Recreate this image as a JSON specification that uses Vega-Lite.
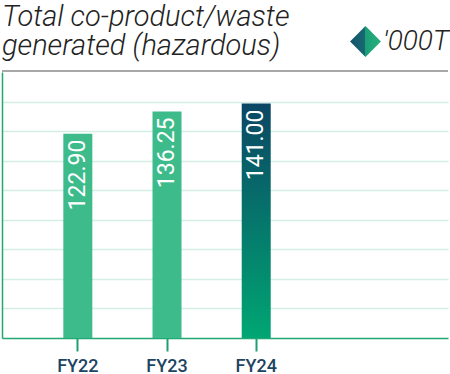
{
  "$schema": "https://vega.github.io/schema/vega-lite/v6.json",
  "autosize": {"type": "none"},
  "width": 446,
  "height": 266,
  "padding": {"left": 2, "top": 72, "right": 2, "bottom": 36},
  "background": "white",
  "config": {"view": {"stroke": null}, "font": "Roboto"},
  "title": {
    "text": ["Total co-product/waste", "generated (hazardous)"],
    "anchor": "start",
    "frame": "group",
    "font": "Roboto",
    "fontSize": 29,
    "fontWeight": 300,
    "fontStyle": "italic",
    "color": "#222222",
    "lineHeight": 29,
    "offset": -35
  },
  "data": {
    "values": [
      {"year": "FY22", "value": 122.90},
      {"year": "FY23", "value": 136.25},
      {"year": "FY24", "value": 141.00}
    ]
  },
  "encoding": {
    "x": {
      "field": "year",
      "type": "nominal",
      "sort": null,
      "scale": {"paddingInner": 0, "paddingOuter": 1, "align": 0.175},
      "axis": {
        "title": null,
        "domain": true,
        "domainColor": "#22a875",
        "domainWidth": 1.5,
        "grid": false,
        "ticks": true,
        "tickColor": "#1f9f6f",
        "tickWidth": 2,
        "tickSize": 13,
        "tickOpacity": 1,
        "labelAngle": 0,
        "labelFont": "Roboto",
        "labelFontSize": 18,
        "labelFontWeight": 500,
        "labelColor": "#1d4461",
        "labelPadding": 6
      }
    },
    "y": {
      "field": "value",
      "type": "quantitative",
      "scale": {"domain": [0, 160], "nice": false, "zero": true},
      "axis": {
        "title": null,
        "labels": false,
        "ticks": false,
        "domain": true,
        "domainColor": "#22a875",
        "domainWidth": 1.5,
        "grid": true,
        "values": [17.78, 35.56, 53.33, 71.11, 88.89, 106.67, 124.44, 142.22],
        "gridColor": "#d3eee2",
        "gridWidth": 1.5
      }
    }
  },
  "layer": [
    {
      "mark": {"type": "rule", "color": "#a8a8a8", "strokeWidth": 2, "yOffset": -1},
      "encoding": {"y": {"datum": 160}, "x": null}
    },
    {
      "transform": [{"filter": "datum.year !== 'FY24'"}],
      "mark": {"type": "bar", "color": "#3dbb8b", "width": 29}
    },
    {
      "transform": [{"filter": "datum.year === 'FY24'"}],
      "mark": {
        "type": "bar",
        "width": 29,
        "color": {
          "gradient": "linear", "x1": 0, "y1": 0, "x2": 0, "y2": 1,
          "stops": [
            {"offset": 0, "color": "#0b4664"},
            {"offset": 1, "color": "#00a673"}
          ]
        }
      }
    },
    {
      "transform": [{"filter": "false"}],
      "mark": {
        "type": "bar",
        "width": 29,
        "color": {
          "gradient": "linear", "x1": 0, "y1": 0, "x2": 1, "y2": 0,
          "stops": [
            {"offset": 0, "color": "#14526b"},
            {"offset": 0.5, "color": "#176a72"},
            {"offset": 0.5, "color": "#1c9e78"},
            {"offset": 1, "color": "#27b07b"}
          ]
        }
      },
      "encoding": {
        "opacity": {
          "datum": "'000T",
          "scale": {"range": [1]},
          "legend": {
            "title": null,
            "orient": "none",
            "legendX": 348,
            "legendY": -46,
            "padding": 0,
            "symbolType": "diamond",
            "symbolSize": 950,
            "symbolStrokeWidth": 0,
            "labelFont": "Roboto",
            "labelFontSize": 28,
            "labelFontStyle": "italic",
            "labelFontWeight": 300,
            "labelColor": "#222222",
            "labelOffset": 2,
            "labelLimit": 200
          }
        }
      }
    },
    {
      "mark": {
        "type": "text",
        "angle": 270,
        "align": "right",
        "baseline": "middle",
        "dx": -6,
        "color": "white",
        "font": "Roboto",
        "fontSize": 23
      },
      "encoding": {"text": {"field": "value", "type": "quantitative", "format": ".2f"}}
    }
  ]
}
